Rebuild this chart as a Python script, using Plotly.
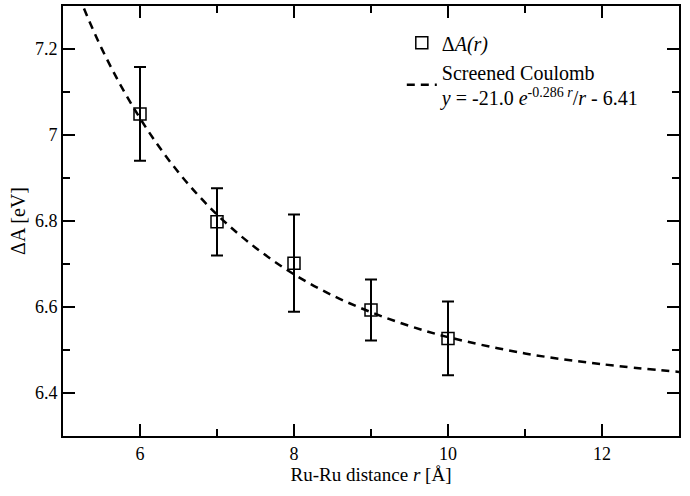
import plotly.graph_objects as go

# measured points
r_pts = [6, 7, 8, 9, 10]
dA = [7.049, 6.798, 6.702, 6.593, 6.527]
dA_err = [0.109, 0.078, 0.113, 0.071, 0.086]

# screened coulomb fit curve
r_fit = [5.0, 5.5, 6.0, 6.5, 7.0, 7.5, 8.0, 8.5, 9.0, 9.5, 10.0, 11.0, 12.0, 13.0]
y_fit = [7.415, 7.202, 7.039, 6.913, 6.815, 6.738, 6.676, 6.627, 6.588, 6.556, 6.530, 6.492, 6.467, 6.449]

# axis ticks
x_major = [6, 8, 10, 12]
y_major = [6.4, 6.6, 6.8, 7.0, 7.2]
y_labels = ["6.4", "6.6", "6.8", "7", "7.2"]

serif = "Liberation Serif, serif"

fig = go.Figure()

fig.add_trace(go.Scatter(
    x=r_pts, y=dA,
    mode="markers",
    name="Δ<i>A(r)</i>",
    marker=dict(symbol="square-open", size=12, color="black", line=dict(width=1.5, color="black")),
    error_y=dict(type="data", array=dA_err, visible=True, color="black", thickness=2, width=6),
))

fig.add_trace(go.Scatter(
    x=r_fit, y=y_fit,
    mode="lines",
    line_shape="spline",
    name="Screened Coulomb<br><i>y</i> = -21.0 <i>e</i><sup>-0.286 <i>r</i></sup>/<i>r</i> - 6.41",
    line=dict(color="black", width=2.5, dash="8px,6px"),
))

fig.update_xaxes(
    range=[5, 13], tickmode="array", tickvals=x_major,
    showline=True, linewidth=2, linecolor="black", mirror="ticks",
    ticks="inside", ticklen=12, tickwidth=2, tickcolor="black",
    minor=dict(ticks="inside", ticklen=7, tickwidth=2, tickcolor="black", dtick=1, tick0=5),
    showgrid=False, zeroline=False, automargin=False,
    tickfont=dict(family=serif, size=18, color="black"),
    title=dict(text="Ru-Ru distance <i>r</i> [Å]", font=dict(family=serif, size=19, color="black"), standoff=2),
)
fig.update_yaxes(
    range=[6.3, 7.3], tickmode="array", tickvals=y_major, ticktext=y_labels,
    showline=True, linewidth=2, linecolor="black", mirror="ticks",
    ticks="inside", ticklen=12, tickwidth=2, tickcolor="black",
    minor=dict(ticks="inside", ticklen=7, tickwidth=2, tickcolor="black", dtick=0.1, tick0=6.3),
    showgrid=False, zeroline=False, automargin=False,
    tickfont=dict(family=serif, size=18, color="black"),
    title=dict(text="ΔA [eV]", font=dict(family=serif, size=20, color="black"), standoff=4),
)

fig.update_layout(
    width=690, height=496,
    margin=dict(l=63, r=11, t=6, b=60),
    plot_bgcolor="white", paper_bgcolor="white",
    font=dict(family=serif, color="black"),
    legend=dict(
        x=0.55, y=0.96, xanchor="left", yanchor="top",
        bgcolor="rgba(0,0,0,0)", font=dict(family=serif, size=20, color="black"),
        itemwidth=30, tracegroupgap=0,
    ),
)

# page body has a default 8px margin; drop it so the figure sits at 0,0
fig.write_html("out.html", config={"displayModeBar": False},
               post_script="document.body.style.margin='0';")
